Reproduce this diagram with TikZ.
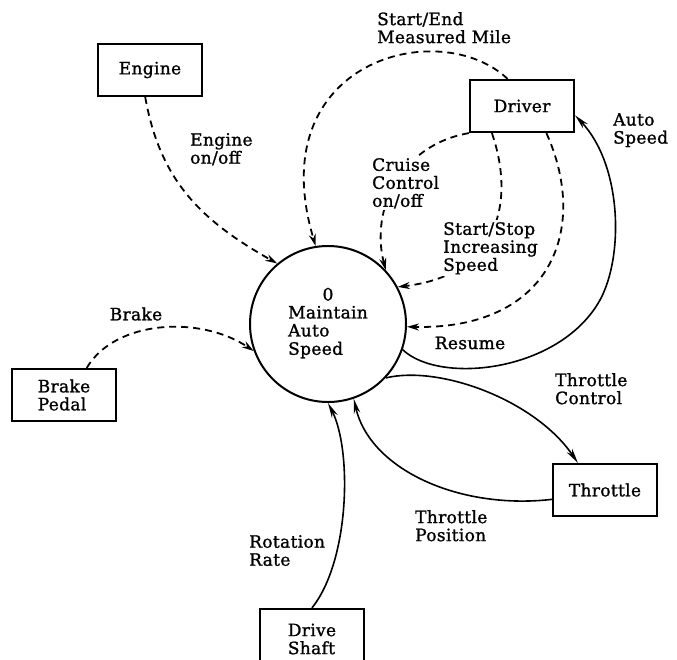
\documentclass[tikz,border=0pt]{standalone}
\usepackage{fontspec}
\setmainfont{DejaVu Serif}[LetterSpace=2, RawFeature={embolden=1.2}]
\usetikzlibrary{arrows.meta}
\tikzset{
  every node/.style={font=\fontsize{17}{18}\selectfont},
  ext/.style={draw, line width=2.2pt, minimum width=104pt, minimum height=52pt, align=left, inner sep=0pt},
  proc/.style={draw, circle, line width=2pt, minimum size=156pt, inner sep=0pt},
  lbl/.style={align=left, inner sep=0pt, anchor=north west},
  wlbl/.style={lbl, fill=white, inner sep=2pt},
  flow/.style={line width=1.6pt, -{Stealth[length=15pt,width=6.5pt]}},
  ctl/.style={line width=1.8pt, dash pattern=on 7pt off 5pt, -{Stealth[length=12pt,width=7pt]}},
}
\begin{document}
\begin{tikzpicture}[x=1pt, y=-1pt]
\fill[white] (0,0) rectangle (677,659);
\useasboundingbox (0,0) rectangle (677,659);

% nodes
\node[ext] (eng) at (150,70) {Engine};
\node[ext] (drv) at (522,106) {Driver};
\node[ext] (bp) at (64,395) {Brake\\Pedal};
\node[ext] (thr) at (605,490) {Throttle};
\node[ext, minimum height=60pt] (ds) at (312,639) {Drive\\Shaft};
\node[proc] (m) at (328,324) {\begin{tabular}{@{}l@{}}\multicolumn{1}{@{}c@{}}{0}\\Maintain\\Auto\\Speed\end{tabular}};

% control flows (dashed)
\draw[ctl] (eng.-100) .. controls (160,180) and (200,220) .. (m.130);
\draw[ctl] (drv.118) .. controls (440,15) and (260,60) .. (m.99);
\draw[ctl] (drv.south west) .. controls (400,145) and (370,210) .. (m.43);
\draw[ctl] (drv.222) .. controls (515,200) and (500,275) .. (m.28);
\draw[ctl] (drv.-48) .. controls (590,230) and (550,330) .. (m.-2);
\draw[ctl] (bp.50) .. controls (115,320) and (200,315) .. (m.200);

% data flows (solid)
\coordinate (asmid) at (600,300);
\draw[flow] (m.-19) .. controls (440,385) and (560,372) .. (asmid)
   .. controls (624,256) and (622,165) .. (drv.-10);
\draw[flow] (m.-43) .. controls (440,365) and (535,400) .. (thr.135);
\draw[flow] (thr.190) .. controls (460,510) and (370,470) .. (m.-71);
\draw[flow] (ds.north) .. controls (350,560) and (352,450) .. (m.south);

% labels
\node[lbl] (lse) at (377,12) {Start/End\\Measured Mile};
\node[lbl] (leng) at (190,133) {Engine\\on/off};
\node[wlbl] (lcc) at (370,156) {Cruise\\Control\\on/off};
\node[wlbl] (lss) at (441,220) {Start/Stop\\Increasing\\Speed};
\node[lbl] (las) at (613,113) {Auto\\Speed};
\node[inner sep=0pt] (lbr) at (136,314) {Brake};
\node[inner sep=0pt] (lres) at (470,343) {Resume};
\node[lbl] (ltc) at (555,373) {Throttle\\Control};
\node[lbl] (ltp) at (415,510) {Throttle\\Position};
\node[lbl] (lrr) at (249,535) {Rotation\\Rate};
\end{tikzpicture}
\end{document}
